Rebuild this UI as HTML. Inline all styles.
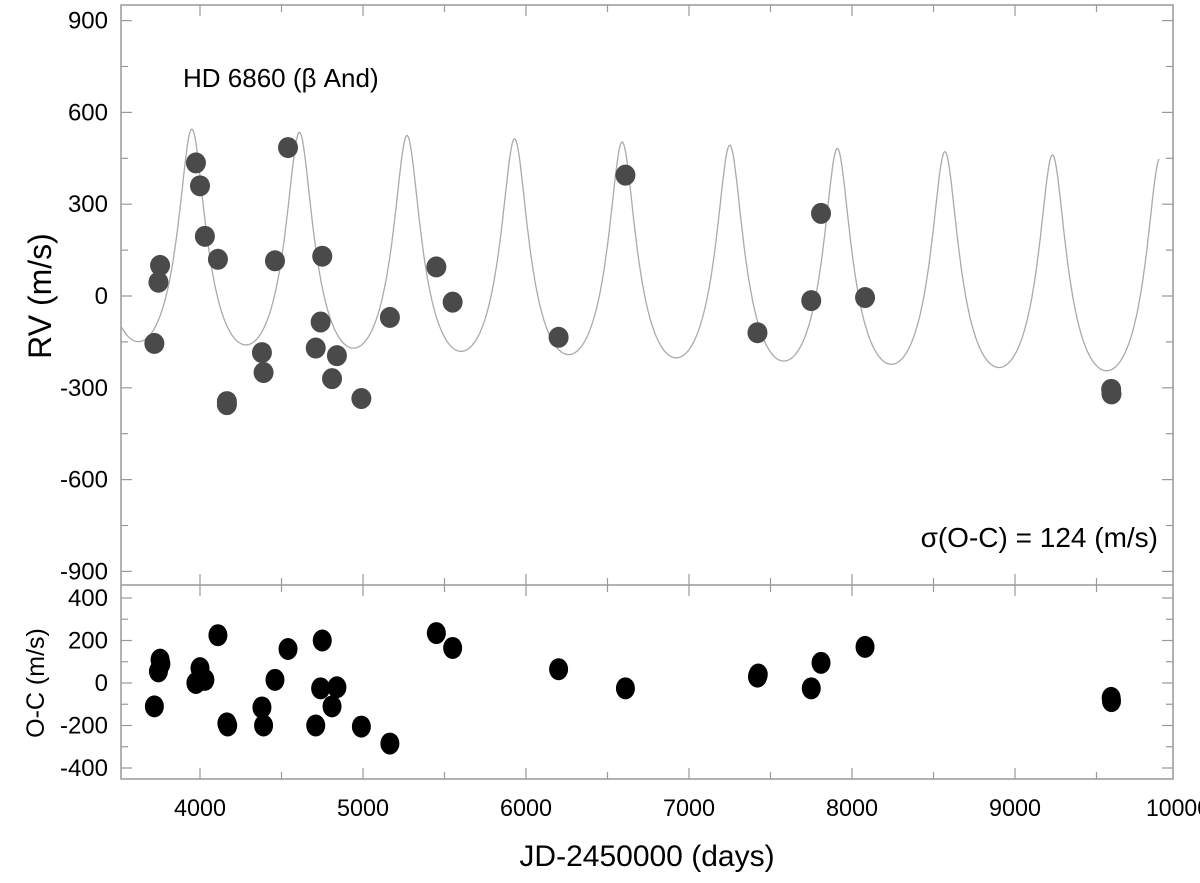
<!DOCTYPE html>
<html><head><meta charset="utf-8">
<style>
body{margin:0;background:#fff;width:1200px;height:878px;overflow:hidden;font-family:"Liberation Sans",sans-serif}
svg text{font-family:"Liberation Sans",sans-serif}
</style></head>
<body>
<svg id="chart" width="1200" height="878" viewBox="0 0 1200 878" xmlns="http://www.w3.org/2000/svg">
<g id="g"></g>
</svg>
<script>
const rvTimes=[3720,3745,3755,3975,4000,4030,4110,4165,4165,4380,4390,4460,4540,4710,4740,4750,4810,4840,4990,5165,5450,5550,6200,6610,7420,7750,7810,8080,9590,9592];
const rvValues=[-155,45,100,435,360,195,120,-345,-355,-185,-250,115,485,-170,-85,130,-270,-195,-335,-70,95,-20,-135,395,-120,-15,270,-5,-305,-320];
const ocTimes=[3720,3745,3755,3760,3975,4000,4030,4110,4165,4170,4380,4390,4460,4540,4710,4740,4750,4810,4840,4990,5165,5450,5550,6200,6610,7420,7425,7750,7810,8080,9590,9592];
const ocValues=[-110,55,110,90,0,70,15,225,-190,-200,-115,-200,15,160,-200,-25,200,-110,-20,-205,-285,235,165,65,-25,30,40,-25,95,170,-70,-85];
const orbitParams=[660,3950,350,0.35,73,-0.016]; // P, Tperi, K, e, gamma, trend
const xTicks=[4000,5000,6000,7000,8000,9000,10000];
const rvTicks=[900,600,300,0,-300,-600,-900];
const ocTicks=[400,200,0,-200,-400];

const L=121,R=1173,T1=5,B1=585,B2=779;
const xs=t=>200+(t-4000)*0.163;
const ys1=v=>296-v*(91.8/300);
const ys2=v=>683-v*(85/400);
const NS='http://www.w3.org/2000/svg';
const g=document.getElementById('g');
function el(tag,attrs,txt){const e=document.createElementNS(NS,tag);for(const k in attrs)e.setAttribute(k,attrs[k]);if(txt!==undefined)e.textContent=txt;g.appendChild(e);return e;}

let f=el('rect',{x:L,y:T1,width:R-L,height:B2-T1,fill:'none',stroke:'#999','stroke-width':1.5});


let d=el('line',{x1:L,x2:R,y1:B1,y2:B1,stroke:'#999','stroke-width':1.5});



for(let t=4000;t<=9500;t+=500){
  const x=xs(t),len=(t%1000===0)?11:7;
  [[T1,1],[B1,-1],[B1,1],[B2,-1]].forEach(([y,s])=>{
    const tk=el('line',{x1:x,x2:x,y1:y,y2:y+s*len,stroke:'#999','stroke-width':1.2});
    
    
  });
}
xTicks.forEach(t=>{
  const tx=el('text',{x:xs(t),y:816,'font-size':24,'text-anchor':'middle',fill:'#000',textLength:t>=10000?64:52,lengthAdjust:'spacingAndGlyphs'},String(t));
  
  
});
for(let v=-900;v<=900;v+=150){
  const y=ys1(v),len=(v%300===0)?11:7;
  [[L,1],[R,-1]].forEach(([x,s])=>{
    const tk=el('line',{x1:x,x2:x+s*len,y1:y,y2:y,stroke:'#999','stroke-width':1.2});
    
    
  });
}
rvTicks.forEach(v=>{
  const tx=el('text',{x:108,y:ys1(v)+8,'font-size':24,'text-anchor':'end',fill:'#000'},String(v));
  
  
});
for(let v=-400;v<=400;v+=100){
  const y=ys2(v),len=(v%200===0)?11:7;
  [[L,1],[R,-1]].forEach(([x,s])=>{
    const tk=el('line',{x1:x,x2:x+s*len,y1:y,y2:y,stroke:'#999','stroke-width':1.2});
    
    
  });
}
ocTicks.forEach(v=>{
  const tx=el('text',{x:108,y:ys2(v)+8,'font-size':24,'text-anchor':'end',fill:'#000'},String(v));
  
  
});

const [P,Tp,K,e,gam,tr]=orbitParams;
function rv(t){
  let M=2*Math.PI*((((t-Tp)/P)%1+1)%1);
  let E=M;for(let i=0;i<30;i++)E=E-(E-e*Math.sin(E)-M)/(1-e*Math.cos(E));
  const nu=2*Math.atan2(Math.sqrt(1+e)*Math.sin(E/2),Math.sqrt(1-e)*Math.cos(E/2));
  return gam+tr*(t-Tp)+K*(Math.cos(nu)+e);
}
let pts=[];
for(let t=3515;t<=9885;t+=3)pts.push(xs(t).toFixed(1)+','+ys1(rv(t)).toFixed(1));
let c=el('polyline',{points:pts.join(' '),fill:'none',stroke:'#aaa','stroke-width':1.3});



rvTimes.forEach((t,i)=>{
  const p=el('ellipse',{cx:xs(t),cy:ys1(rvValues[i]),rx:10,ry:10.5,fill:'#4a4a4a'});
  
  
});
ocTimes.forEach((t,i)=>{
  const p=el('ellipse',{cx:xs(t),cy:ys2(ocValues[i]),rx:9.5,ry:11,fill:'#000'});
  
  
});

let a=el('text',{x:183,y:87,'font-size':26,fill:'#000'},'HD 6860 (β And)');


let s=el('text',{x:1158,y:547,'font-size':28,'text-anchor':'end',fill:'#000'},'σ(O-C) = 124 (m/s)');


let y1=el('text',{x:0,y:0,'font-size':32,'text-anchor':'middle',fill:'#000',transform:'translate(51,296) rotate(-90)'},'RV (m/s)');


let y2=el('text',{x:0,y:0,'font-size':25,'text-anchor':'middle',fill:'#000',transform:'translate(44,683) rotate(-90)'},'O-C  (m/s)');


let xt=el('text',{x:647,y:866,'font-size':30,'text-anchor':'middle',fill:'#000'},'JD-2450000 (days)');


</script>
</body></html>
